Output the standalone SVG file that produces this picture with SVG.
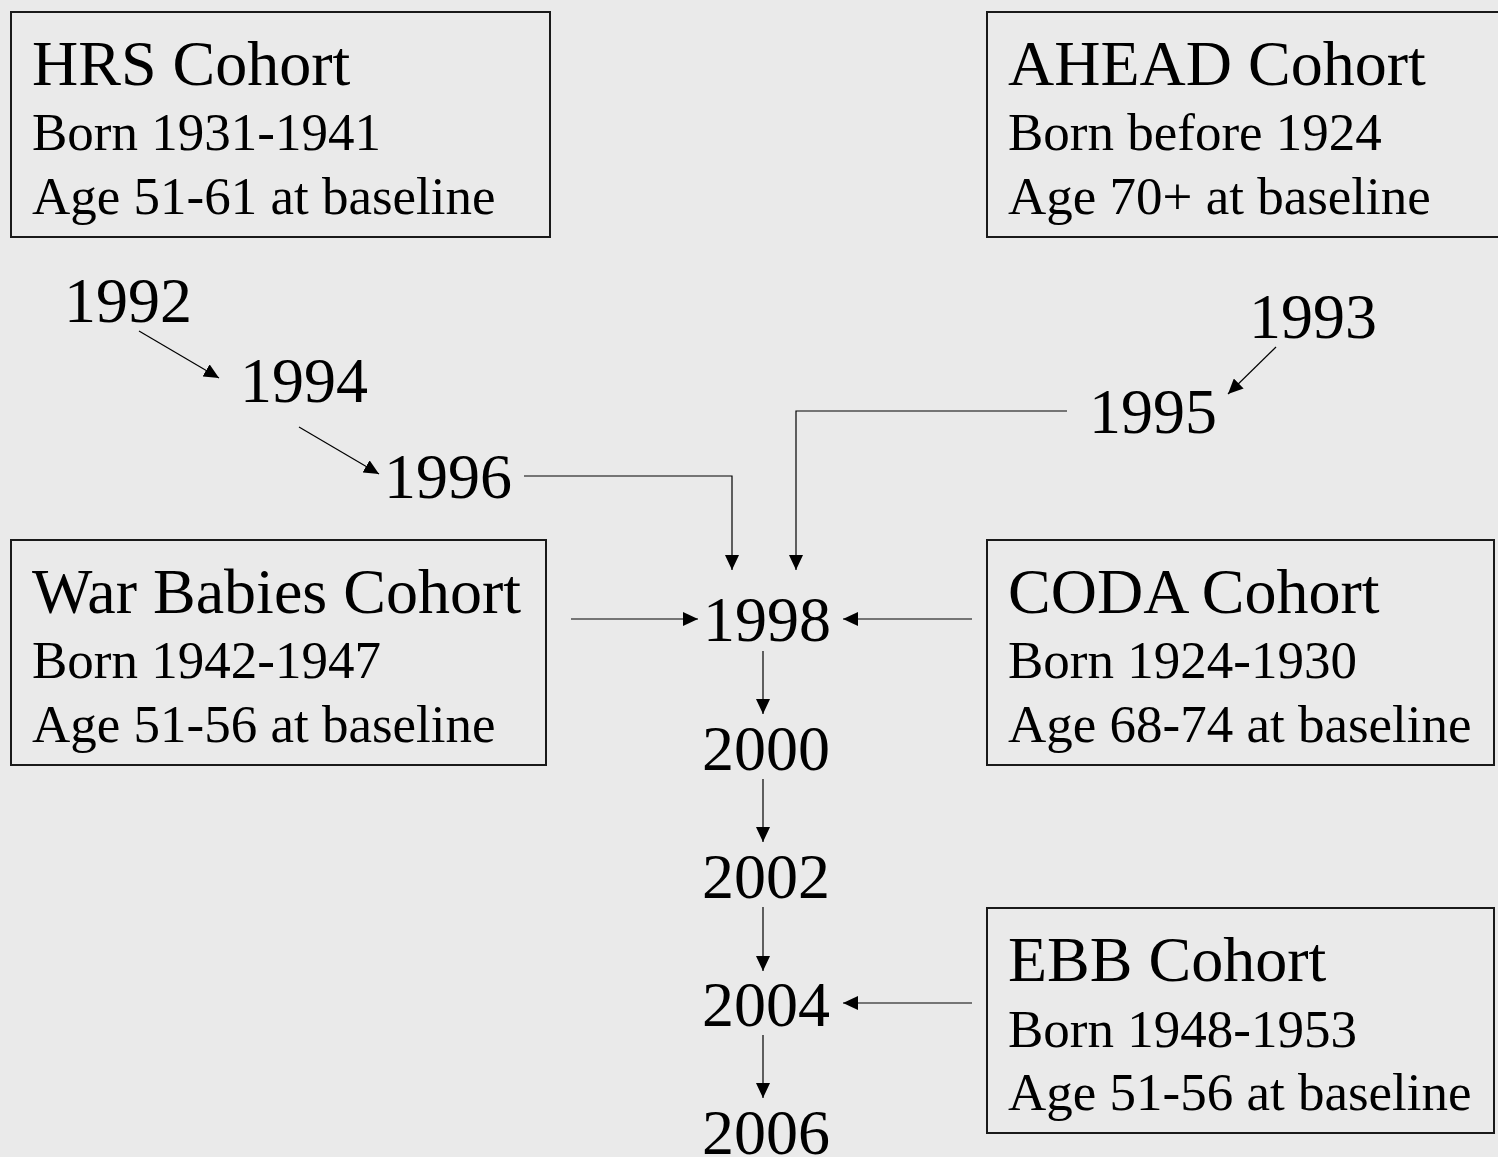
<svg xmlns="http://www.w3.org/2000/svg" width="1498" height="1157" viewBox="0 0 1498 1157">
<style>
.box{fill:none;stroke:#1a1a1a;stroke-width:2}
.t{font-family:"Liberation Serif","Times New Roman",serif;fill:#000}
.h{font-size:64px}
.s{font-size:53px}
.y{font-size:64px}
.c{fill:none;stroke:#000;stroke-width:1.2}
</style>
<defs>
<marker id="ah" markerUnits="userSpaceOnUse" markerWidth="16" markerHeight="14" refX="15" refY="7" orient="auto">
<path d="M0,0 L15,7 L0,14 z" fill="#000"/>
</marker>
</defs>
<rect width="1498" height="1157" fill="#EAEAEA"/>
<g id="hrs">
<rect class="box" x="11" y="12" width="539" height="225"/>
<text class="t h" x="32" y="85">HRS Cohort</text>
<text class="t s" x="32" y="150">Born 1931-1941</text>
<text class="t s" x="32" y="214">Age 51-61 at baseline</text>
</g>
<g id="ahead">
<rect class="box" x="987" y="12" width="520" height="225"/>
<text class="t h" x="1008" y="85">AHEAD Cohort</text>
<text class="t s" x="1008" y="150">Born before 1924</text>
<text class="t s" x="1008" y="214">Age 70+ at baseline</text>
</g>
<g id="warbabies">
<rect class="box" x="11" y="540" width="535" height="225"/>
<text class="t h" x="32" y="613">War Babies Cohort</text>
<text class="t s" x="32" y="678">Born 1942-1947</text>
<text class="t s" x="32" y="742">Age 51-56 at baseline</text>
</g>
<g id="coda">
<rect class="box" x="987" y="540" width="507" height="225"/>
<text class="t h" x="1008" y="613">CODA Cohort</text>
<text class="t s" x="1008" y="678">Born 1924-1930</text>
<text class="t s" x="1008" y="742">Age 68-74 at baseline</text>
</g>
<g id="ebb">
<rect class="box" x="987" y="908" width="507" height="225"/>
<text class="t h" x="1008" y="981">EBB Cohort</text>
<text class="t s" x="1008" y="1047">Born 1948-1953</text>
<text class="t s" x="1008" y="1110">Age 51-56 at baseline</text>
</g>
<g id="y1992"><text class="t y" x="64" y="322">1992</text></g>
<g id="y1994"><text class="t y" x="240" y="402">1994</text></g>
<g id="y1996"><text class="t y" x="384" y="498">1996</text></g>
<g id="y1993"><text class="t y" x="1249" y="338">1993</text></g>
<g id="y1995"><text class="t y" x="1089" y="433">1995</text></g>
<g id="y1998"><text class="t y" x="767" y="641" text-anchor="middle">1998</text></g>
<g id="y2000"><text class="t y" x="766" y="770" text-anchor="middle">2000</text></g>
<g id="y2002"><text class="t y" x="766" y="898" text-anchor="middle">2002</text></g>
<g id="y2004"><text class="t y" x="766" y="1026" text-anchor="middle">2004</text></g>
<g id="y2006"><text class="t y" x="766" y="1154" text-anchor="middle">2006</text></g>
<g id="connectors">
<line class="c" x1="139" y1="331" x2="219" y2="378" marker-end="url(#ah)"/>
<line class="c" x1="299" y1="427" x2="379" y2="474" marker-end="url(#ah)"/>
<line class="c" x1="1276" y1="347" x2="1228" y2="394" marker-end="url(#ah)"/>
<polyline class="c" points="524,476 732,476 732,570" marker-end="url(#ah)"/>
<polyline class="c" points="1067,411 796,411 796,570" marker-end="url(#ah)"/>
<line class="c" x1="571" y1="619" x2="698" y2="619" marker-end="url(#ah)"/>
<line class="c" x1="972" y1="619" x2="843" y2="619" marker-end="url(#ah)"/>
<line class="c" x1="763" y1="651" x2="763" y2="714" marker-end="url(#ah)"/>
<line class="c" x1="763" y1="779" x2="763" y2="842" marker-end="url(#ah)"/>
<line class="c" x1="763" y1="907" x2="763" y2="971" marker-end="url(#ah)"/>
<line class="c" x1="763" y1="1035" x2="763" y2="1098" marker-end="url(#ah)"/>
<line class="c" x1="972" y1="1003" x2="843" y2="1003" marker-end="url(#ah)"/>
</g>
</svg>
